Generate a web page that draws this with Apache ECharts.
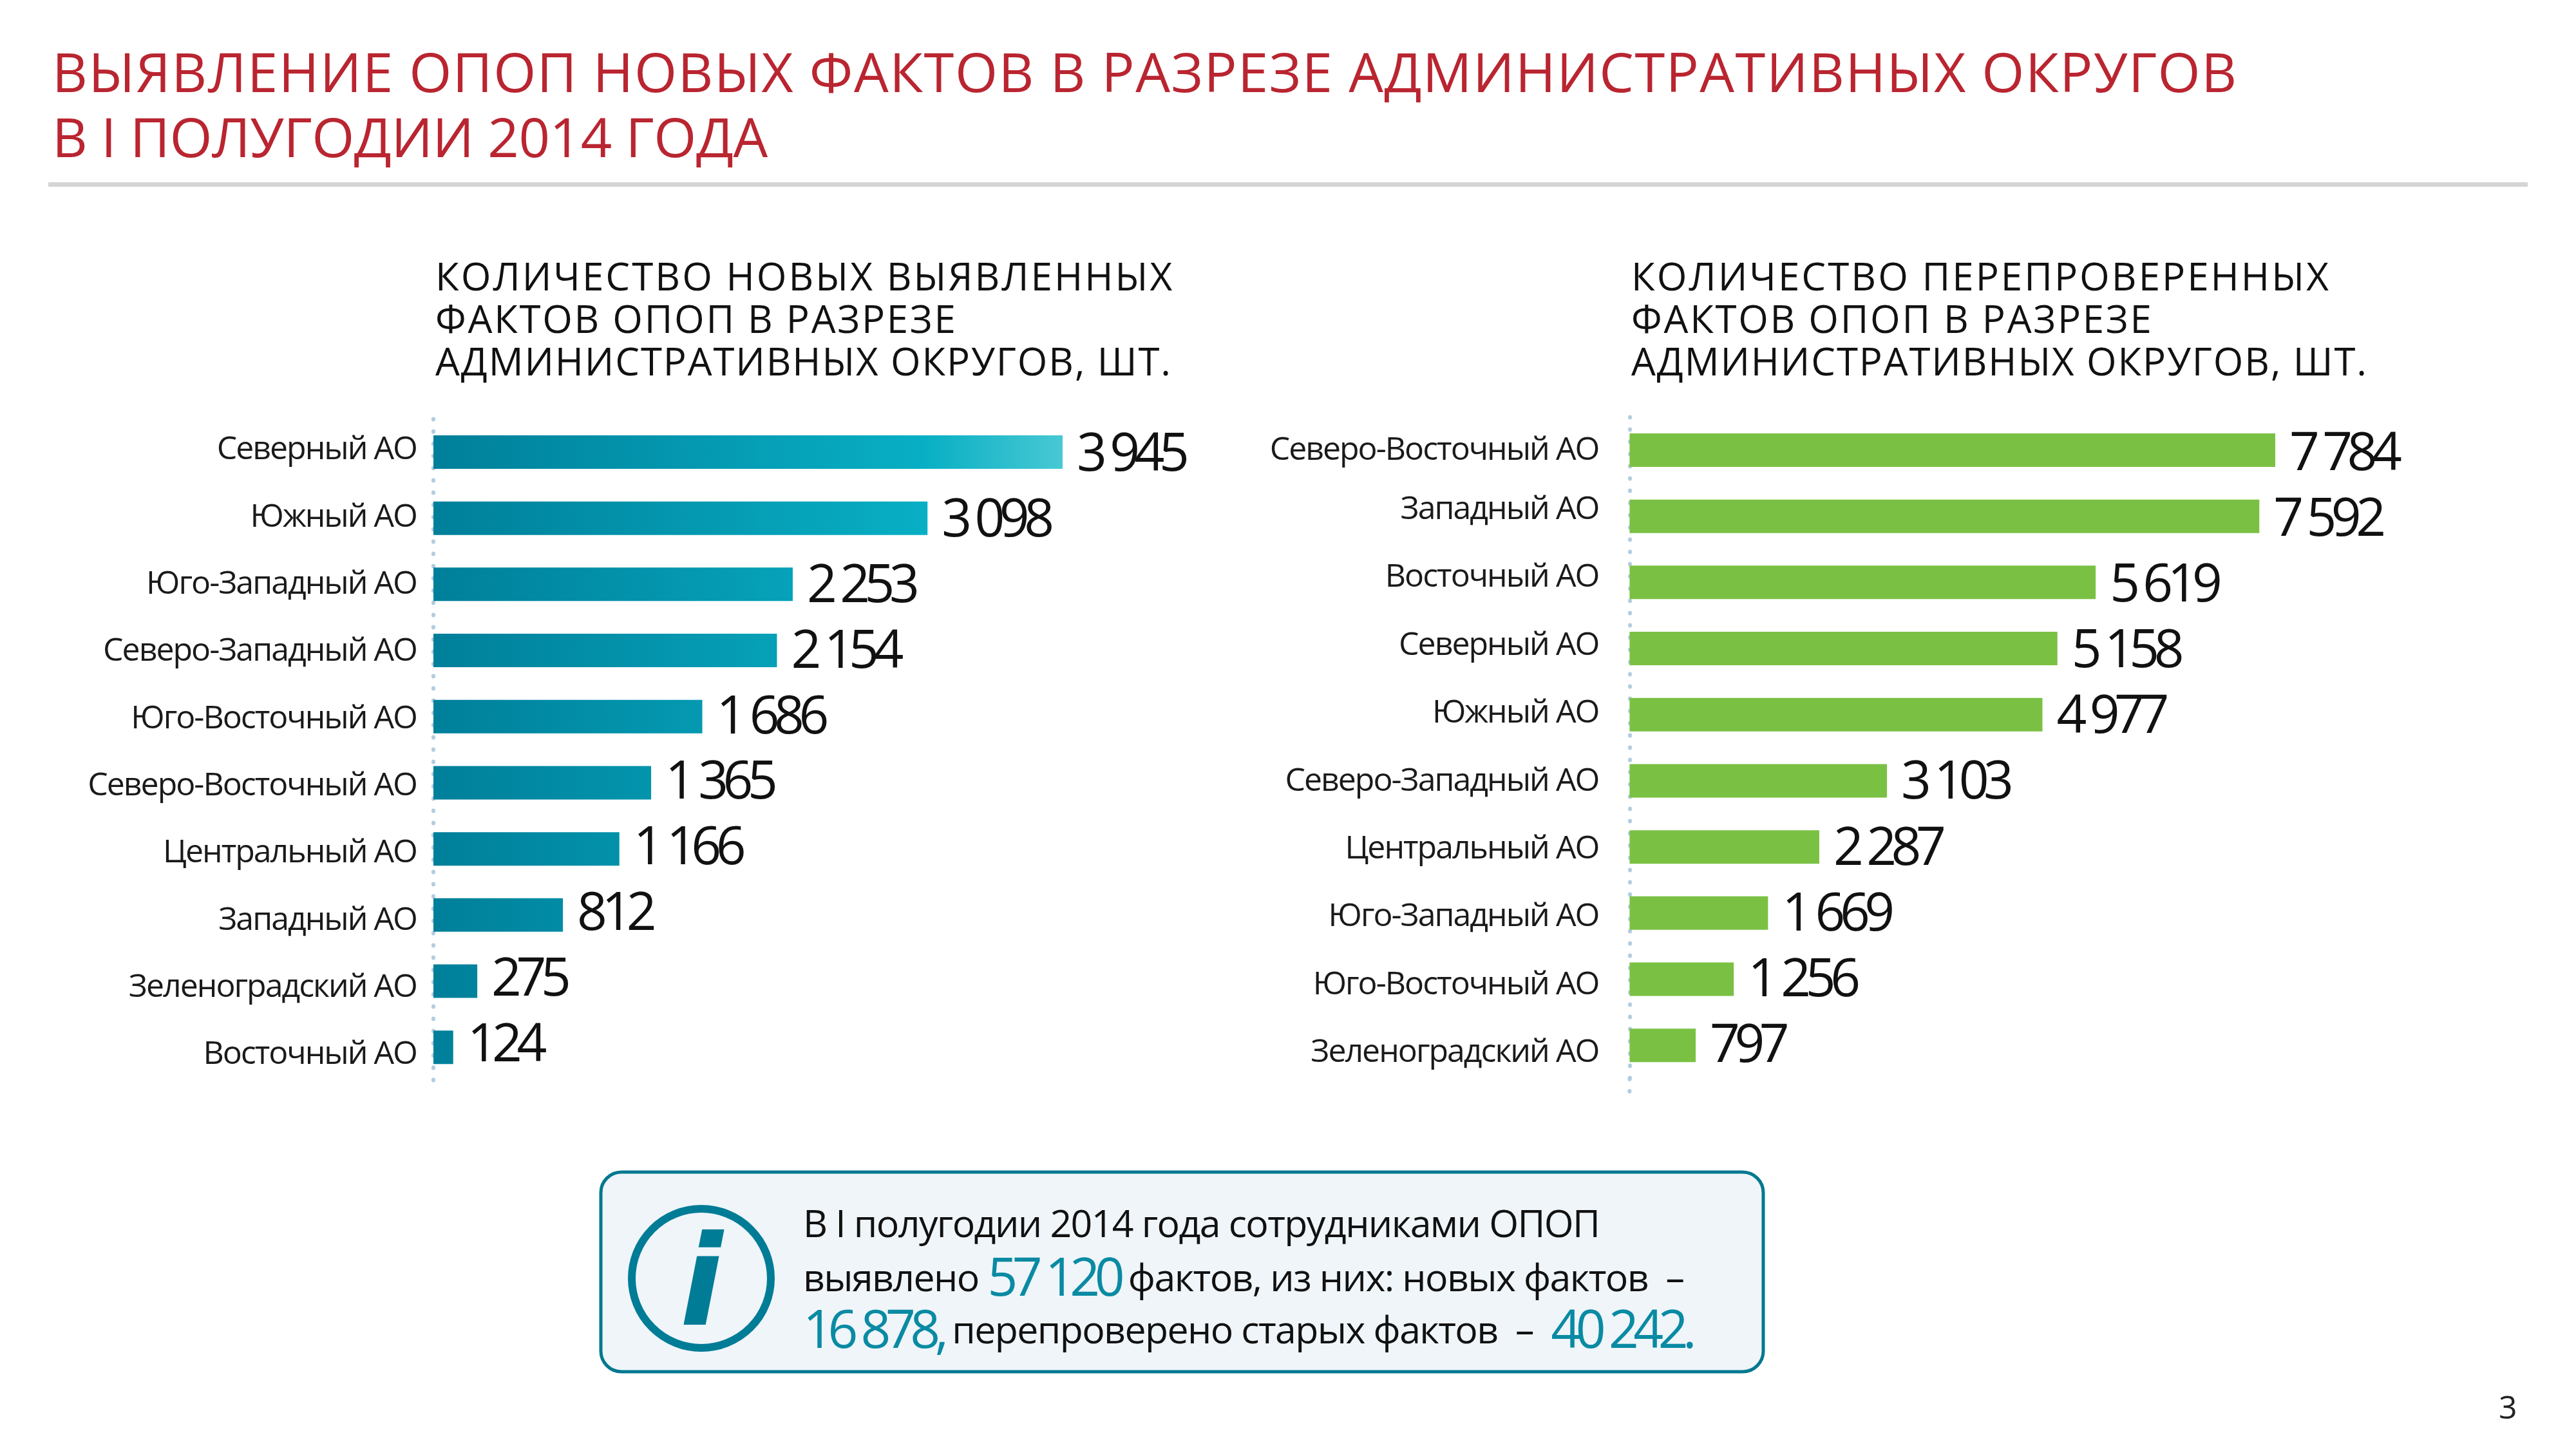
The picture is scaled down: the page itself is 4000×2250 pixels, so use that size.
<!DOCTYPE html>
<html><head><meta charset="utf-8">
<style>html,body{margin:0;padding:0;background:#fff}#c{width:4000px;height:2250px}</style>
<script src="https://cdn.jsdelivr.net/npm/echarts@6/dist/echarts.min.js"></script>
</head><body><div id="c"></div>
<script>
const leftCategories = ['Северный АО','Южный АО','Юго-Западный АО','Северо-Западный АО','Юго-Восточный АО','Северо-Восточный АО','Центральный АО','Западный АО','Зеленоградский АО','Восточный АО'];
const leftValues = [3945,3098,2253,2154,1686,1365,1166,812,275,124];
const rightCategories = ['Северо-Восточный АО','Западный АО','Восточный АО','Северный АО','Южный АО','Северо-Западный АО','Центральный АО','Юго-Западный АО','Юго-Восточный АО','Зеленоградский АО'];
const rightValues = [7784,7592,5619,5158,4977,3103,2287,1669,1256,797];
const titleLines = ['ВЫЯВЛЕНИЕ ОПОП НОВЫХ ФАКТОВ В РАЗРЕЗЕ АДМИНИСТРАТИВНЫХ ОКРУГОВ','В I ПОЛУГОДИИ 2014 ГОДА'];
const leftHeading = ['КОЛИЧЕСТВО НОВЫХ ВЫЯВЛЕННЫХ','ФАКТОВ ОПОП В РАЗРЕЗЕ','АДМИНИСТРАТИВНЫХ ОКРУГОВ, ШТ.'];
const rightHeading = ['КОЛИЧЕСТВО ПЕРЕПРОВЕРЕННЫХ','ФАКТОВ ОПОП В РАЗРЕЗЕ','АДМИНИСТРАТИВНЫХ ОКРУГОВ, ШТ.'];

// Tracking by font size: the reference is set with spaced caps and tight numerals.
const tracking = {85:1.5, 84.9:-0.4, 60.1:3.0, 60:2.7, 59.9:1.9, 59:-1.6, 82:-8.5, 50:-2};
const headingSizes = [60.1, 60, 59.9];
const titleSizes = [85, 84.9];
const track = (ctx) => { const m = /(\d+(?:\.\d+)?)px/.exec(ctx.font); ctx.letterSpacing = ((m && tracking[+m[1]]) || 0) + 'px'; };
const P = CanvasRenderingContext2D.prototype, ft = P.fillText, mt = P.measureText;
P.fillText = function(){ track(this); return ft.apply(this, arguments); };
P.measureText = function(){ track(this); return mt.apply(this, arguments); };

const FONT = '"Open Sans"';
const thin = v => String(v).replace(/\B(?=(\d{3})$)/, '\u00a0');
const barH = 52, pitch = 102.7;

function baseText(x, y, s, size, fill, extra) {
  return {type:'text', x, y, z:5, style:Object.assign({text:s, fontFamily:FONT, fontSize:size, fill, verticalAlign:'bottom'}, extra||{})};
}
const dotted = {color:'#b3cde0', width:6, type:[1,18], cap:'round'};

const leftFill = {type:'linear', global:true, x:673, y:0, x2:1650, y2:0, colorStops:[
  {offset:0,color:'#007f9a'},{offset:0.78,color:'#08afc4'},{offset:1,color:'#48c8d4'}]};

function panel(idx, cats, vals, left, top, scaleW, maxV, labelTop, labelPitch, shift, fill, margin, firstDrop) {
  return {
    grids:[{left, top, width:scaleW, height:pitch*10},
           {left, top:labelTop, width:scaleW, height:labelPitch*10}],
    xAxes:[{gridIndex:idx*2, type:'value', min:0, max:maxV, show:false},
           {gridIndex:idx*2+1, type:'value', min:0, max:maxV, show:false}],
    yAxes:[{gridIndex:idx*2, type:'category', inverse:true, data:cats, axisLine:{show:true,lineStyle:dotted}, axisTick:{show:false}, axisLabel:{show:false}, splitLine:{show:false}},
           {gridIndex:idx*2+1, type:'category', inverse:true, data:cats, axisLine:{show:false}, axisTick:{show:false},
            axisLabel:{show:true, interval:0, margin, fontFamily:FONT, fontSize:50, color:'#1a1a1a', align:'right',
              formatter:(v,i)=> (firstDrop && i===0) ? '{drop|'+v+'}' : v,
              rich:{drop:{fontFamily:FONT, fontSize:50, color:'#1a1a1a', padding:[firstDrop,0,0,0]}}}, splitLine:{show:false}}],
    series:{type:'bar', xAxisIndex:idx*2, yAxisIndex:idx*2, barWidth:barH, z:3,
      data:vals.map((v,i)=>({value:v, label:{offset:[0, shift[0]+(shift[1]-shift[0])*i/9]}})),
      itemStyle:{color:fill},
      label:{show:true, position:'right', distance:22, fontFamily:FONT, fontSize:82, color:'#111111', formatter:p=>thin(p.value)}}
  };
}
const pL = panel(0, leftCategories, leftValues, 673, 650.6, 977, 3945, 647, 104.3, [6,-2], leftFill, 26, 0);
const pR = panel(1, rightCategories, rightValues, 2530.4, 647.6, 1002.6, 7784, 633.7, 105.4, [8,2], '#7ac143', 48, 26);

const g = [];
titleLines.forEach((s,i)=>g.push(baseText(81,162+i*100,s,titleSizes[i],'#b92530')));
g.push({type:'rect', shape:{x:75,y:283,width:3850,height:7}, style:{fill:'#d4d4d4'}});
leftHeading.forEach((s,i)=>g.push(baseText(676,465+i*66,s,headingSizes[i],'#111111')));
rightHeading.forEach((s,i)=>g.push(baseText(2533,465+i*66,s,headingSizes[i],'#111111')));
// dotted axis tail below the bars, right panel
g.push({type:'line', shape:{x1:2530.4,y1:1675,x2:2530.4,y2:1696}, style:{stroke:'#b3cde0', lineWidth:6, lineDash:[1,18], lineCap:'round'}});
// info box
g.push({type:'rect', shape:{x:933,y:1820,width:1805,height:310,r:32}, style:{fill:'#eff5f9', stroke:'#00788f', lineWidth:5}});
g.push({type:'circle', shape:{cx:1089,cy:1985,r:108}, style:{fill:'none', stroke:'#007c96', lineWidth:12}});
g.push(baseText(1089,2104,'i',195,'#007c96',{fontFamily:'"DejaVu Sans"', fontWeight:'bold', fontStyle:'italic', align:'center'}));
const rich = {n:{fontFamily:FONT,fontSize:82,fill:'#0a8aa3'}, t:{fontFamily:FONT,fontSize:59,fill:'#111111'}};
const line = (y,s)=>g.push(baseText(1247,y,s,59,'#111111',{rich}));
line(1933,'{t|В I полугодии 2014 года сотрудниками ОПОП}');
line(2025,'{t|выявлено }{n|'+thin(57120)+'}{t| фактов, из них: новых фактов  –}');
line(2106,'{n|'+thin(16878)+',}{t| перепроверено старых фактов  –  }{n|'+thin(40242)+'.}');
g.push(baseText(3880,2213,'3',50,'#222222'));

const chart = echarts.init(document.getElementById('c'), null, {renderer:'canvas'});
chart.setOption({
  animation:false, backgroundColor:'#ffffff',
  grid:[...pL.grids,...pR.grids],
  xAxis:[...pL.xAxes,...pR.xAxes],
  yAxis:[...pL.yAxes,...pR.yAxes],
  series:[pL.series,pR.series],
  graphic:g
});
</script></body></html>
